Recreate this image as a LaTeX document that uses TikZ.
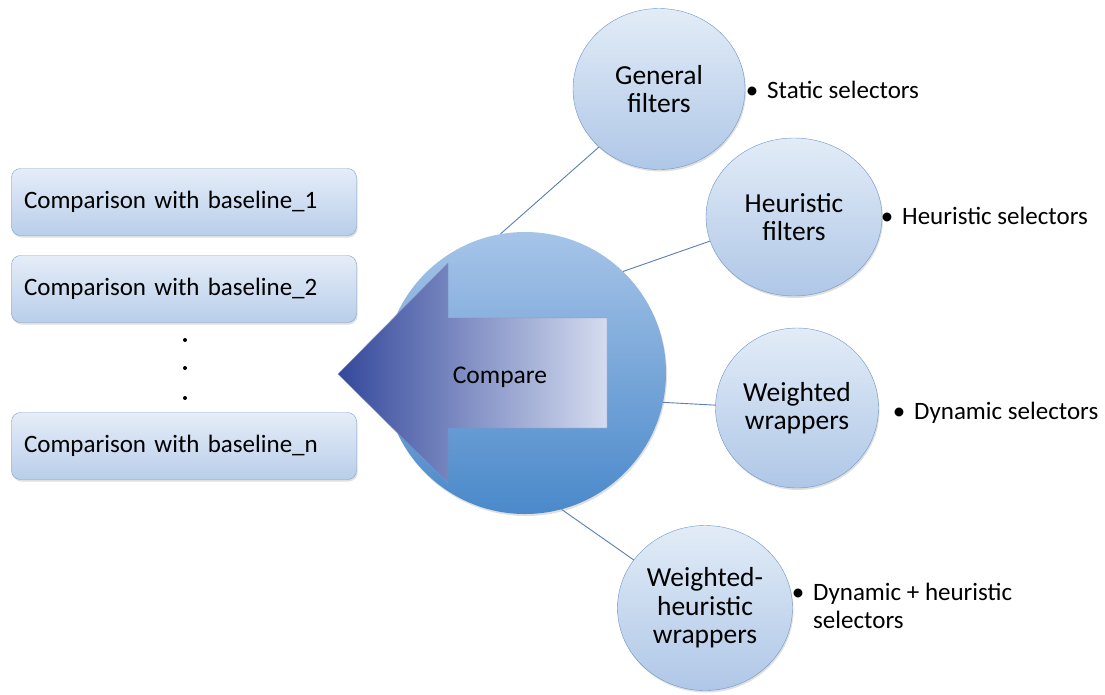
\documentclass[tikz,border=0pt]{standalone}
\usepackage{fontspec}
\setmainfont{Carlito}
\usepackage{xcolor}
\usetikzlibrary{positioning}
\usetikzlibrary{shapes.geometric, shadows}

\definecolor{boxtop}{HTML}{E5EDF8}
\definecolor{boxbot}{HTML}{B9CEEA}
\definecolor{boxline}{HTML}{7EA3D0}
\definecolor{circtop}{HTML}{E2ECF7}
\definecolor{circbot}{HTML}{AFC7E7}
\definecolor{circline}{HTML}{6E96C8}
\definecolor{bigtop}{HTML}{A6C4E8}
\definecolor{bigbot}{HTML}{4A89CA}
\definecolor{arrdark}{HTML}{34489B}
\definecolor{arrmid}{HTML}{5860AE}
\definecolor{arrlight}{HTML}{D5DCF0}
\definecolor{linkcol}{HTML}{5B7FB0}

\begin{document}
\begin{tikzpicture}[x=1pt, y=-1pt,
  base/.style = {draw=boxline, rounded corners=9pt, top color=boxtop, bottom color=boxbot,
    minimum width=345pt, minimum height=67pt, text width=320pt, align=left,
    font=\fontsize{25}{30}\selectfont,
    drop shadow={opacity=0.25, shadow xshift=1pt, shadow yshift=-2pt}},
  sub/.style = {ellipse, draw=circline, top color=circtop, bottom color=circbot, inner sep=0pt,
    align=center, font=\fontsize{27.5}{28.5}\selectfont,
    drop shadow={opacity=0.25, shadow xshift=1pt, shadow yshift=-2pt}},
  note/.style = {anchor=west, align=left, inner sep=0pt, font=\fontsize{25}{28}\selectfont},
  link/.style = {draw=linkcol, line width=0.9pt}]
\useasboundingbox (0,0) rectangle (1105,694);

% baselines
\node[base] (b1) at (184,202) {Comparison with baseline\_1};
\node[base] (b2) at (184,289) {Comparison with baseline\_2};
\node[base] (bn) at (184,446) {Comparison with baseline\_n};
\foreach \y in {340,368,398}
  \fill (185,\y) circle (2);

% centre
\node[circle, minimum size=282pt, top color=bigtop, bottom color=bigbot,
  drop shadow={opacity=0.25, shadow xshift=1pt, shadow yshift=-2pt}] (cmp) at (525,373) {};
\shadedraw[draw=arrdark!60, left color=arrdark, middle color=arrmid, right color=arrlight]
  (338,374) -- (448,263) -- (448,318) -- (607,318) -- (607,428) -- (448,428) -- (448,483) -- cycle;
\node[font=\fontsize{25.5}{30}\selectfont] (lbl) at (500,377) {Compare};

% selectors
\node[sub, minimum width=172pt, minimum height=161pt] (gen) at (659,89) {General\\filters};
\node[sub, minimum width=176pt, minimum height=158pt] (heu) at (794,217) {Heuristic\\filters};
\node[sub, minimum width=163pt, minimum height=160pt] (wei) at (797,408) {Weighted\\wrappers};
\node[sub, minimum width=175pt, minimum height=165pt] (whw) at (705,608) {Weighted-\\heuristic\\wrappers};

\path[link] (cmp.100) edge (gen.224);
\path[link] (cmp.46) edge (heu.196);
\path[link] (cmp.-12) edge (wei.178);
\path[link] (cmp.-75) edge (whw.146);

\node[note] (n1) at (767,90) {\llap{\textbullet\hspace{9pt}}Static selectors};
\node[note] (n2) at (902,216) {\llap{\textbullet\hspace{9pt}}Heuristic selectors};
\node[note] (n3) at (914,413) {\llap{\textbullet\hspace{9pt}}Dynamic selectors};
\node[note] (n4) at (813,606) {\llap{\textbullet\hspace{9pt}}Dynamic + heuristic\\selectors};
\end{tikzpicture}
\end{document}
